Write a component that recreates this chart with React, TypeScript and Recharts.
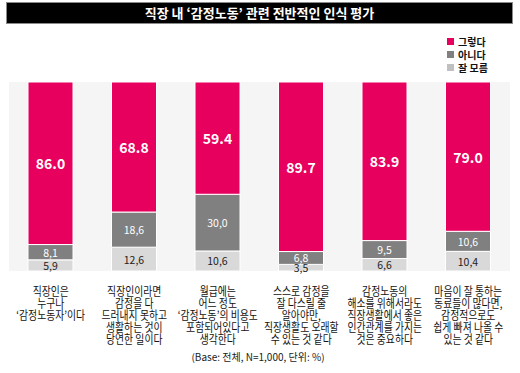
import React from "react"
import { BarChart, Bar, XAxis, YAxis, CartesianGrid, LabelList } from "recharts"

const categories = [
  "직장인은\n누구나\n‘감정노동자’이다",
  "직장인이라면\n감정을 다\n드러내지 못하고\n생활하는 것이\n당연한 일이다",
  "월급에는\n어느 정도\n‘감정노동’의 비용도\n포함되어있다고\n생각한다",
  "스스로 감정을\n잘 다스릴 줄\n알아야만,\n직장생활도 오래할\n수 있는 것 같다",
  "감정노동의\n해소를 위해서라도\n직장생활에서 좋은\n인간관계를 가지는\n것은 중요하다",
  "마음이 잘 통하는\n동료들이 많다면,\n감정적으로도\n쉽게 빠져 나올 수\n있는 것 같다",
]
const yes = [86.0, 68.8, 59.4, 89.7, 83.9, 79.0]
const no = [8.1, 18.6, 30.0, 6.8, 9.5, 10.6]
const dk = [5.9, 12.6, 10.6, 3.5, 6.6, 10.4]

const seriesNames = ["그렇다", "아니다", "잘 모름"]
const legendColors = ["#E8005E", "#808080", "#C0C0C0"]

const FONT = "'Noto Sans CJK KR', 'Noto Sans', sans-serif"

const data = categories.map((c, i) => ({ name: c, yes: yes[i], no: no[i], dk: dk[i] }))

// the original font is a narrow one, so squeeze the lines a little
function CatTick(props: any) {
  const { x, y, payload } = props
  const lines = String(payload.value).split("\n")
  return (
    <g transform={`translate(${x},${y + 16.5}) scale(0.82,1)`}>
      <text x={0} y={0} textAnchor="middle" fontSize={12} fill="#111" fontFamily={FONT}>
        {lines.map((l, i) => (
          <tspan key={i} x={0} dy={i === 0 ? 0 : 12.1}>
            {l}
          </tspan>
        ))}
      </text>
    </g>
  )
}

const makeLabel = (color: string, size: number, bold: boolean, comma: boolean) => (props: any) => {
  const { x, y, width, height, value } = props
  const txt = comma ? Number(value).toFixed(1).replace(".", ",") : Number(value).toFixed(1)
  return (
    <text
      x={x + width / 2}
      y={y + height / 2}
      textAnchor="middle"
      dominantBaseline="central"
      fontSize={size}
      fontWeight={bold ? 700 : 400}
      fill={color}
      fontFamily={FONT}
    >
      {txt}
    </text>
  )
}

export default function App() {
  return (
    <div style={{ position: "absolute", left: 0, top: 0, width: 520, height: 373, background: "#fff" }}>
      <div
        style={{
          position: "absolute",
          left: 6,
          top: 2,
          width: 505,
          height: 20,
          background: "#000",
          border: "1px solid #8a8a8a",
          color: "#fff",
          fontFamily: FONT,
          fontWeight: 700,
          fontSize: 13,
          lineHeight: "20px",
          textAlign: "center",
        }}
      >
        직장 내 ‘감정노동’ 관련 전반적인 인식 평가
      </div>
      <div style={{ position: "absolute", left: 447, top: 35, fontFamily: FONT, fontSize: 10, fontWeight: 700, color: "#111" }}>
        {seriesNames.map((n, i) => (
          <div key={n} style={{ display: "flex", alignItems: "center", height: 13 }}>
            <span style={{ width: 7, height: 7, background: legendColors[i], marginRight: 4, display: "inline-block" }} />
            {n}
          </div>
        ))}
      </div>
      <BarChart
        width={520}
        height={373}
        data={data}
        margin={{ top: 82, right: 10, bottom: 0, left: 9 }}
        barCategoryGap={0}
        style={{ position: "absolute", left: 0, top: 0 }}
      >
        <CartesianGrid horizontal={false} vertical={false} fill="#F5F5F5" />
        <XAxis dataKey="name" axisLine={false} tickLine={false} interval={0} tick={<CatTick />} height={102} />
        <YAxis hide domain={[0, 100]} />
        <Bar dataKey="dk" stackId="a" fill="#D9D9D9" stroke="#fff" strokeWidth={1} barSize={45} isAnimationActive={false}>
          <LabelList dataKey="dk" content={makeLabel("#222", 10.5, false, true)} />
        </Bar>
        <Bar dataKey="no" stackId="a" fill="#808080" stroke="#fff" strokeWidth={1} barSize={45} isAnimationActive={false}>
          <LabelList dataKey="no" content={makeLabel("#fff", 10.5, false, true)} />
        </Bar>
        <Bar dataKey="yes" stackId="a" fill="#E8005E" stroke="#fff" strokeWidth={1} barSize={45} isAnimationActive={false}>
          <LabelList dataKey="yes" content={makeLabel("#fff", 14, true, false)} />
        </Bar>
      </BarChart>
      <div
        style={{
          position: "absolute",
          left: 0,
          top: 349,
          width: 516,
          textAlign: "center",
          fontFamily: FONT,
          fontSize: 10,
          color: "#222",
        }}
      >
        (Base: 전체, N=1,000, 단위: %)
      </div>
    </div>
  )
}
